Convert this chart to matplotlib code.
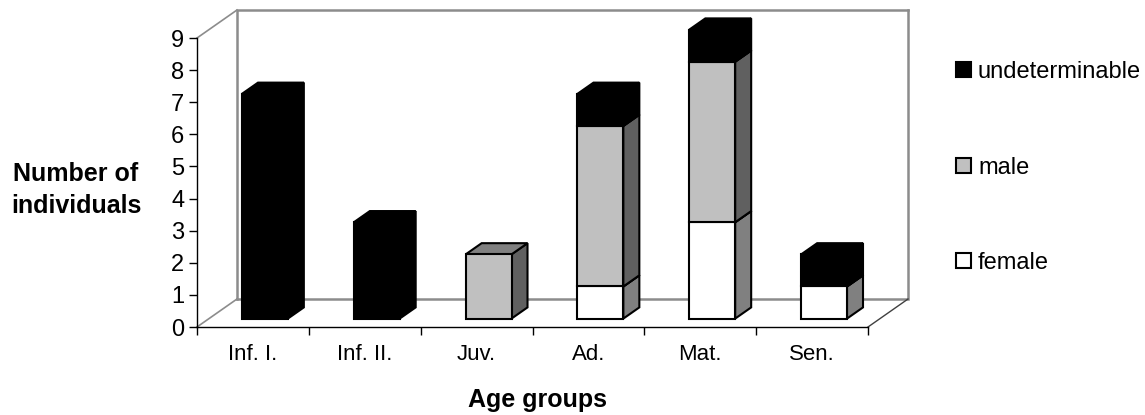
import matplotlib
matplotlib.use("Agg")
import matplotlib.pyplot as plt
from matplotlib.patches import Polygon, Patch

categories = ["Inf. I.", "Inf. II.", "Juv.", "Ad.", "Mat.", "Sen."]
female = [0, 0, 0, 1, 3, 1]
male = [0, 0, 2, 5, 5, 0]
undeterminable = [7, 3, 0, 1, 1, 1]
y_ticks = list(range(10))

plt.rcParams["font.family"] = ["Liberation Sans", "DejaVu Sans"]
W, H = 1145, 415
fig = plt.figure(figsize=(W / 100, H / 100), dpi=100, facecolor="white")
L, R, T, B = 197, 868, 38, 327
ax = fig.add_axes([L / W, 1 - B / H, (R - L) / W, (B - T) / H])
ax.set_xlim(0, 6)
ax.set_ylim(0, 9)
ax.patch.set_visible(False)

# full oblique depth of the plot box, in data units
DX = 40 / ((R - L) / 6)
DY = 28 / ((B - T) / 9)
BAR_W = 0.41
D0, D1 = 0.30, 0.70


def proj(x, y, d):
    return (x + d * DX, y + d * DY)


GRID = "#8c8c8c"
xmax, ymax = 6, 9
wall = [proj(0, 0, 0), proj(0, 0, 1), proj(0, ymax, 1), proj(xmax, ymax, 1),
        proj(xmax, 0, 1), proj(0, 0, 1)]
ax.plot(*zip(*wall[1:4]), color=GRID, lw=1.8, clip_on=False, zorder=1, solid_joinstyle="miter")
ax.plot(*zip(*wall[3:6]), color=GRID, lw=1.8, clip_on=False, zorder=1, solid_joinstyle="miter")
ax.plot(*zip(proj(0, ymax, 0), proj(0, ymax, 1)), color=GRID, lw=1.2, clip_on=False, zorder=1)
ax.plot(*zip(proj(0, 0, 0), proj(0, 0, 1)), color=GRID, lw=1.2, clip_on=False, zorder=1)
ax.plot(*zip(proj(xmax, 0, 0), proj(xmax, 0, 1)), color="#404040", lw=1.0, clip_on=False, zorder=1)

series = [
    (female, "#FFFFFF", "#808080", "#808080"),
    (male, "#C0C0C0", "#606060", "#808080"),
    (undeterminable, "#000000", "#000000", "#000000"),
]


def face(pts, color, z):
    ax.add_patch(Polygon(pts, closed=True, facecolor=color, edgecolor="black",
                         lw=1.5, clip_on=False, zorder=z, joinstyle="miter"))


for i in range(len(categories)):
    x0, x1 = i + 0.5 - BAR_W / 2, i + 0.5 + BAR_W / 2
    base = 0
    for k, (vals, front, side, top) in enumerate(series):
        v = vals[i]
        if v == 0:
            continue
        y0, y1 = base, base + v
        z = 3 + k * 0.1
        face([proj(x1, y0, D0), proj(x1, y0, D1), proj(x1, y1, D1), proj(x1, y1, D0)], side, z)
        face([proj(x0, y1, D0), proj(x1, y1, D0), proj(x1, y1, D1), proj(x0, y1, D1)], top, z)
        face([proj(x0, y0, D0), proj(x1, y0, D0), proj(x1, y1, D0), proj(x0, y1, D0)], front, z)
        base = y1

for s in ("top", "right"):
    ax.spines[s].set_visible(False)
for s in ("left", "bottom"):
    ax.spines[s].set_linewidth(1.0)
    ax.spines[s].set_zorder(2)

ax.set_yticks(y_ticks)
ax.tick_params(axis="y", labelsize=17, length=6, width=1.0, pad=3)
ax.set_xticks(range(len(categories) + 1))
ax.set_xticklabels([])
ax.set_xticks([i + 0.5 for i in range(len(categories))], minor=True)
ax.set_xticklabels(categories, minor=True, fontsize=16)
ax.tick_params(axis="x", which="major", length=6, width=1.0)
ax.tick_params(axis="x", which="minor", length=0, pad=12.5)

ax.set_xlabel("Age groups", fontsize=18, fontweight="bold", va="baseline")
ax.xaxis.set_label_coords((537.5 - L) / (R - L), (B - 407) / (B - T))
ax.set_ylabel("Number of\nindividuals", fontsize=18, fontweight="bold", rotation=0,
              ha="center", va="center", linespacing=1.42)
ax.yaxis.set_label_coords((76 - L) / (R - L), (B - 190) / (B - T))

handles = [Patch(facecolor="black", edgecolor="black", lw=1.5, label="undeterminable"),
           Patch(facecolor="#C0C0C0", edgecolor="black", lw=1.5, label="male"),
           Patch(facecolor="white", edgecolor="black", lw=1.5, label="female")]
ax.legend(handles=handles, loc="center left", frameon=False, fontsize=17,
          bbox_to_anchor=(956 / W, 1 - 167.5 / H), bbox_transform=fig.transFigure,
          borderpad=0, borderaxespad=0, handlelength=0.63, handleheight=0.6,
          handletextpad=0.3, labelspacing=3.1)

fig.savefig("out.png", dpi=100)
